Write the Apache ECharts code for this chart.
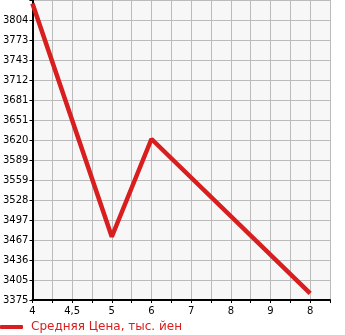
<!DOCTYPE html>
<html>
<head>
<meta charset="utf-8">
<script src="https://cdn.jsdelivr.net/npm/echarts@6/dist/echarts.min.js"></script>
<style>html,body{margin:0;padding:0;background:#fff}#c{width:345px;height:335px}</style>
</head>
<body>
<div id="c"></div>
<script>
// x categories (one per minor tick); labels shown on every other tick
var xCategories = ['c0','c1','c2','c3','c4','c5','c6','c7','c8','c9','c10','c11','c12','c13','c14','c15'];
var xTickLabels = ['4','4,5','5','6','7','8','9','8'];
// series: [category index, value]
var pricePoints = [[0, 3830], [4, 3472], [6, 3622], [14, 3385]];
var seriesName = 'Средняя Цена, тыс. йен';
var yTickLabels = ['3375','3405','3436','3467','3497','3528','3559','3589','3620','3651','3681','3712','3743','3773','3804'];
var yMin = 3375;
var yStep = 3375 / 110;
var yMax = yMin + 15 * yStep;

var chart = echarts.init(document.getElementById('c'));
chart.setOption({
  animation: false,
  textStyle: { fontFamily: 'DejaVu Sans' },
  grid: { left: 30, right: 15, top: 0, bottom: 35, show: true, backgroundColor: '#f7f7f7', borderWidth: 0, containLabel: false },
  legend: {
    data: [{ name: seriesName, icon: 'roundRect' }],
    left: 0, top: 321, itemWidth: 23, itemHeight: 4, padding: 0,
    textStyle: { color: '#d81e1e', fontSize: 12, fontFamily: 'DejaVu Sans', padding: [0, 0, 0, 3] }
  },
  xAxis: {
    type: 'category',
    data: xCategories,
    boundaryGap: false,
    axisLine: { lineStyle: { color: '#000', width: 2 } },
    axisTick: { show: true, interval: 0, length: 3, lineStyle: { color: '#000' } },
    axisLabel: {
      interval: 0, color: '#000', fontSize: 10, margin: 6,
      formatter: function (v, i) { return i % 2 === 0 ? (xTickLabels[i / 2] || '') : ''; }
    },
    splitLine: { show: true, interval: 0, lineStyle: { color: '#bbbbbb', width: 1 } }
  },
  yAxis: {
    type: 'value',
    min: yMin, max: yMax, interval: yStep,
    axisLine: { show: true, lineStyle: { color: '#000', width: 2 } },
    axisTick: { show: true, length: 3, lineStyle: { color: '#000' } },
    axisLabel: {
      color: '#000', fontSize: 10, margin: 4, showMaxLabel: false, padding: [0, 0, 6, 0],
      formatter: function (v) { var i = Math.round((v - yMin) / yStep); return yTickLabels[i] || ''; }
    },
    splitLine: { show: true, lineStyle: { color: '#bbbbbb', width: 1 } }
  },
  series: [{
    name: seriesName,
    type: 'line',
    data: pricePoints,
    showSymbol: false,
    symbol: 'none',
    lineStyle: { color: '#d81e1e', width: 4.5 },
    itemStyle: { color: '#d81e1e' },
    clip: true
  }]
});
</script>
</body>
</html>
